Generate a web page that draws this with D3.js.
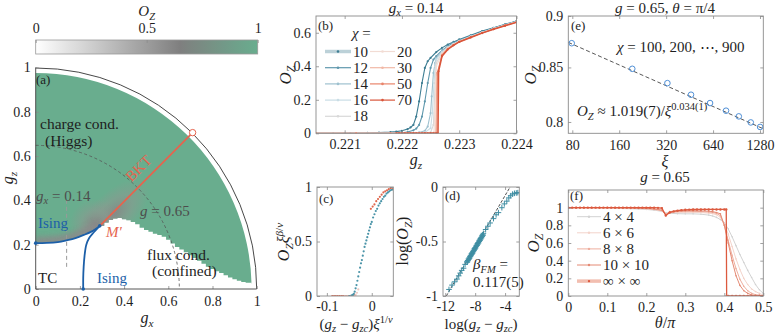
<!DOCTYPE html>
<html><head><meta charset="utf-8">
<script src="https://cdn.jsdelivr.net/npm/d3@7"></script>
<style>
body{margin:0;background:#fff}
svg{display:block;font-family:"Liberation Serif","Times New Roman",serif;white-space:pre}
</style></head><body><svg id="c" width="776" height="335"></svg>
<script>
// ---------------- DATA ----------------
// (a) phase diagram
const cbTicks=[0,0.5,1], cbLabels=["0","0.5","1"];
const aTicks=[0,0.2,0.4,0.6,0.8,1], aLabels=["0","0.2","0.4","0.6","0.8","1"];
const isingA_gx=[0,0.05,0.1,0.14,0.18,0.22,0.25,0.27,0.29];
const isingA_gz=[0.207,0.208,0.212,0.22,0.23,0.245,0.258,0.27,0.285];
const isingB_gx=[0.215,0.215,0.217,0.221,0.229,0.242,0.262,0.29];
const isingB_gz=[0,0.05,0.1,0.15,0.2,0.23,0.255,0.285];
const edge_gx=[0.29,0.31,0.33,0.35,0.37,0.39,0.41,0.43,0.45,0.47,0.49,0.51,0.53,0.55,0.57,0.59,0.61,0.63,0.65,0.67,0.69,0.71,0.73,0.75,0.77,0.79,0.81,0.83,0.85,0.87,0.89,0.91,0.93,0.95,0.976];
const edge_gz=[0.285,0.30,0.312,0.318,0.32,0.315,0.31,0.303,0.292,0.276,0.266,0.258,0.25,0.244,0.236,0.222,0.205,0.19,0.178,0.166,0.152,0.14,0.127,0.114,0.101,0.09,0.08,0.072,0.062,0.052,0.044,0.037,0.032,0.028,0.022];
const orderedR=0.977, unitR=1, gCircle=0.65;
const bkt_gx=[0.29,0.71], bkt_gz=[0.285,0.706];
const cut_gx=[0.14,0.14], cut_gz=[0.1,0.4];

// (b) O_Z vs g_z at g_x = 0.14
const chiLabels=[10,12,14,16,18,20,30,50,70];
const gz10=[0.2205,0.2208,0.2211,0.2214,0.2216,0.2218,0.2219,0.2220,0.2221,0.22215,0.2222,0.22225,0.2223,0.22235,0.2224,0.22245,0.2225,0.2226,0.2227,0.2228,0.2229,0.2230,0.2232,0.2234,0.2236,0.2238,0.2240];
const oz10=[0,0,0.001,0.002,0.004,0.007,0.010,0.015,0.025,0.035,0.05,0.10,0.19,0.30,0.39,0.43,0.45,0.485,0.51,0.53,0.545,0.56,0.585,0.61,0.63,0.65,0.67];
const gz12=[0.2205,0.2210,0.2215,0.2218,0.2220,0.2221,0.2222,0.22225,0.2223,0.22235,0.2224,0.22245,0.2225,0.22255,0.2226,0.2227,0.2228,0.2229,0.2230,0.2232,0.2234,0.2236,0.2238,0.2240];
const oz12=[0,0,0,0.001,0.003,0.008,0.018,0.028,0.05,0.10,0.19,0.30,0.39,0.44,0.46,0.495,0.52,0.54,0.555,0.58,0.605,0.628,0.648,0.668];
const gz14=[0.2205,0.2212,0.2218,0.2221,0.2223,0.2224,0.22245,0.2225,0.22252,0.22255,0.22258,0.2226,0.2227,0.2228,0.2229,0.2230,0.2232,0.2234,0.2236,0.2238,0.2240];
const oz14=[0,0,0,0.001,0.005,0.015,0.04,0.12,0.22,0.36,0.42,0.45,0.49,0.515,0.535,0.552,0.578,0.603,0.626,0.647,0.667];
const gz16=[0.2205,0.2212,0.2218,0.2222,0.2224,0.2225,0.22253,0.22256,0.22258,0.2226,0.2227,0.2228,0.2229,0.2230,0.2232,0.2234,0.2236,0.2238,0.2240];
const oz16=[0,0,0,0.001,0.005,0.03,0.12,0.30,0.40,0.44,0.485,0.512,0.533,0.55,0.577,0.602,0.625,0.646,0.666];
const gz18=[0.2205,0.2212,0.2218,0.2222,0.2224,0.2225,0.22255,0.22258,0.2226,0.2227,0.2228,0.2229,0.2230,0.2232,0.2234,0.2236,0.2238,0.2240];
const oz18=[0,0,0,0,0.002,0.005,0.05,0.30,0.42,0.48,0.51,0.532,0.549,0.576,0.601,0.624,0.645,0.665];
const gz20=[0.2205,0.2212,0.2218,0.2222,0.2224,0.22256,0.22259,0.2226,0.2227,0.2228,0.2229,0.2230,0.2232,0.2234,0.2236,0.2238,0.2240];
const oz20=[0,0,0,0,0.001,0.005,0.30,0.40,0.475,0.508,0.53,0.548,0.575,0.6,0.623,0.644,0.664];
const gz30=[0.2205,0.2212,0.2218,0.2222,0.2224,0.2225,0.22259,0.22261,0.2227,0.2228,0.2229,0.2230,0.2232,0.2234,0.2236,0.2238,0.2240];
const oz30=[0,0,0,0,0,0,0.003,0.35,0.47,0.505,0.528,0.547,0.574,0.6,0.623,0.644,0.664];
const gz50=[0.2205,0.2212,0.2218,0.2222,0.2224,0.2225,0.2226,0.22261,0.22262,0.2227,0.2228,0.2229,0.2230,0.2232,0.2234,0.2236,0.2238,0.2240];
const oz50=[0,0,0,0,0,0,0,0,0.36,0.465,0.503,0.527,0.546,0.573,0.599,0.622,0.643,0.663];
const gz70=[0.2219,0.22195,0.2220,0.22205,0.2221,0.22215,0.2222,0.22225,0.2223,0.22235,0.2224,0.22245,0.2225,0.22255,0.2226,0.22263,0.22264,0.2227,0.2228,0.2229,0.2230,0.2232,0.2234,0.2236,0.2238,0.2240];
const oz70=[0,0,0,0,0,0,0,0,0,0,0,0,0,0,0,0,0.37,0.46,0.5,0.525,0.545,0.572,0.598,0.621,0.642,0.662];
const bXTicks=[0.221,0.222,0.223,0.224], bYTicks=[0,0.2,0.4,0.6];

// (c) data collapse
const cTealX=[-0.05,-0.045,-0.042,-0.04,-0.038,-0.036,-0.034,-0.032,-0.03,-0.028,-0.026,-0.024,-0.022,-0.02,-0.018,-0.016,-0.014,-0.012,-0.01,-0.008,-0.006,-0.004,-0.002,0,0.003,0.006,0.009,0.012,0.015,0.018,0.021,0.024,0.027,0.03,0.033,0.036,0.039,0.042,0.045];
const cTealY=[0,0.005,0.01,0.02,0.04,0.07,0.1,0.14,0.18,0.22,0.26,0.3,0.33,0.37,0.41,0.45,0.48,0.51,0.54,0.57,0.6,0.63,0.66,0.68,0.72,0.75,0.78,0.8,0.83,0.85,0.87,0.89,0.91,0.92,0.94,0.95,0.96,0.97,0.975];
const cLightX=[-0.06,-0.055,-0.05,-0.045,-0.04,-0.036,-0.033,-0.03];
const cLightY=[0,0,0,0,0.005,0.01,0.03,0.06];
const cRedX=[-0.088,-0.084,-0.08,-0.076,-0.072,-0.068,-0.064,-0.06,-0.056,-0.052,-0.048,-0.044,-0.041,-0.038,-0.002,0.002,0.006,0.01,0.014,0.018,0.022,0.026,0.03,0.034,0.038,0.042,0.046];
const cRedY=[0,0,0,0,0,0,0,0,0,0,0,0,0,0.01,0.8,0.82,0.84,0.87,0.89,0.91,0.93,0.95,0.96,0.97,0.98,0.99,0.98];
const cXTicks=[-0.1,0], cYTicks=[0,0.5,1];

// (d) log-log
const dX=[-11.5,-11.1,-10.75,-10.43,-10.2,-10.0,-9.8,-9.55,-9.35,-9.1,-9.0,-8.9,-8.8,-8.7,-8.6,-8.5,-8.4,-8.3,-8.2,-8.1,-8.0,-7.9,-7.8,-7.7,-7.6,-7.5,-7.4,-7.3,-7.2,-7.1,-7.0,-6.9,-6.6,-6.3,-6.0,-5.55,-5.2,-4.89,-4.43,-4.1,-3.77,-3.5,-3.25,-3.0,-2.75,-2.5,-2.3];
const dY=[-0.94,-0.9,-0.87,-0.845,-0.815,-0.79,-0.765,-0.745,-0.71,-0.686,-0.674,-0.66,-0.65,-0.636,-0.626,-0.612,-0.603,-0.59,-0.579,-0.565,-0.556,-0.542,-0.532,-0.519,-0.509,-0.495,-0.485,-0.472,-0.462,-0.448,-0.438,-0.425,-0.39,-0.36,-0.33,-0.29,-0.255,-0.235,-0.19,-0.155,-0.13,-0.1,-0.08,-0.065,-0.058,-0.055,-0.052];
const dX2=[-9.05,-8.95,-8.85,-8.75,-8.65,-8.55,-8.45,-8.35,-8.25,-8.15,-8.05,-7.95,-7.85,-7.75,-7.65,-7.55,-7.45,-7.35,-7.25,-7.15,-7.05,-6.95];
const dY2=[-0.69,-0.677,-0.664,-0.654,-0.641,-0.631,-0.618,-0.608,-0.595,-0.584,-0.572,-0.561,-0.548,-0.537,-0.525,-0.514,-0.501,-0.49,-0.478,-0.467,-0.455,-0.443];
const dFitX=[-11.86,-3.33], dFitY=[-1,0];
const dXTicks=[-12,-8,-4], dYTicks=[-1,-0.5,0];

// (e) O_Z vs xi
const eXi=[79.3,194,326,462,612,775,936,1117,1282];
const eO=[0.8732,0.8487,0.8353,0.8246,0.8170,0.8101,0.8050,0.7996,0.7956];
const eFitXi=[75.4,1344], eFitO=[0.874,0.794];
const eXTicks=[80,160,320,640,1280], eYTicks=[0.8,0.85,0.9];

// (f) O_Z vs theta
const thInf=[0,0.01,0.02,0.03,0.04,0.05,0.06,0.07,0.08,0.09,0.10,0.11,0.12,0.13,0.14,0.15,0.16,0.17,0.18,0.19,0.20,0.21,0.22,0.23,0.24,0.25,0.26,0.27,0.28,0.29,0.30,0.31,0.32,0.33,0.34,0.35,0.36,0.37,0.38,0.39,0.40,0.405,0.406,0.41,0.42,0.43,0.44,0.45,0.46,0.47,0.48,0.49,0.50];
const oInf=[1,1,1,1,1,1,1,1,1,1,1,1,1,1,1,1,1,1,1,1,1,1,1,0.998,0.995,0.91,0.945,0.958,0.966,0.972,0.976,0.978,0.979,0.98,0.98,0.98,0.98,0.98,0.98,0.98,0.98,0.98,0,0,0,0,0,0,0,0,0,0,0];
const thetaF=[0,0.02,0.04,0.06,0.08,0.10,0.12,0.14,0.16,0.18,0.20,0.22,0.24,0.25,0.26,0.28,0.30,0.32,0.34,0.36,0.37,0.38,0.39,0.40,0.41,0.42,0.43,0.44,0.45,0.46,0.47,0.48,0.49,0.50];
const o4=[1,1,1,1,1,0.998,0.995,0.99,0.988,0.985,0.98,0.972,0.958,0.942,0.936,0.932,0.93,0.93,0.926,0.916,0.906,0.89,0.865,0.83,0.76,0.67,0.57,0.47,0.38,0.29,0.21,0.13,0.07,0.03];
const o6=[1,1,1,1,1,1,0.998,0.996,0.994,0.99,0.986,0.978,0.962,0.935,0.944,0.946,0.947,0.947,0.944,0.938,0.932,0.92,0.89,0.82,0.7,0.56,0.42,0.3,0.2,0.13,0.08,0.05,0.03,0.01];
const o8=[1,1,1,1,1,1,1,0.998,0.996,0.993,0.99,0.982,0.968,0.925,0.95,0.956,0.958,0.958,0.956,0.95,0.945,0.935,0.91,0.8,0.63,0.46,0.31,0.19,0.11,0.06,0.03,0.015,0.01,0];
const o10=[1,1,1,1,1,1,1,1,0.998,0.996,0.993,0.986,0.972,0.918,0.955,0.964,0.966,0.966,0.964,0.96,0.955,0.945,0.93,0.8,0.6,0.4,0.23,0.12,0.06,0.03,0.012,0.005,0,0];
const fLegend=["4 \u00d7 4","6 \u00d7 6","8 \u00d7 8","10 \u00d7 10","\u221e \u00d7 \u221e"];
const fXTicks=[0,0.1,0.2,0.3,0.4,0.5], fYTicks=[0,0.2,0.4,0.6,0.8,1];

// ---------------- DRAWING ----------------
const svg=d3.select('#c');
const defs=svg.append('defs');
const BOX='#8a8a8a', TXT='#1e1e1e', FS=14;
const GREEN='#69ad8e';

function rich(x,y,segs,o={}){
  const fs=o.fs||15;
  const t=svg.append('text').attr('x',x).attr('y',y).attr('font-size',fs)
    .attr('text-anchor',o.anchor||'start').attr('fill',o.fill||TXT);
  if(o.rot) t.attr('transform',`rotate(${o.rot},${x},${y})`);
  let cur=0;
  segs.forEach(([s,f=''])=>{
    const sub=f.includes('_'), sup=f.includes('^');
    const off=sub? fs*0.25 : sup? -fs*0.38 : 0;
    const ts=t.append('tspan').attr('dy',off-cur).text(s);
    if(f.includes('i')) ts.attr('font-style','italic');
    if(sub||sup) ts.attr('font-size',fs*0.7);
    cur=off;
  });
  return t;
}
function styleAxis(g){
  g.attr('font-family',null).attr('font-size',FS);
  g.select('.domain').remove();
  g.selectAll('.tick line').attr('stroke',BOX).attr('stroke-width',0.8);
  g.selectAll('.tick text').attr('fill',TXT);
  return g;
}
function frame(xs,ys,o){
  const [x0,x1]=xs.range(), [yb,yt]=ys.range();
  svg.append('g').attr('transform',`translate(0,${yb})`)
    .call(d3.axisBottom(xs).tickValues(o.xt).tickFormat(o.xf).tickSize(-3).tickSizeOuter(0).tickPadding(o.xpad||7)).call(styleAxis);
  svg.append('g').attr('transform',`translate(0,${yt})`)
    .call(d3.axisTop(xs).tickValues(o.xt).tickFormat('').tickSize(-3).tickSizeOuter(0)).call(styleAxis);
  svg.append('g').attr('transform',`translate(${x0},0)`)
    .call(d3.axisLeft(ys).tickValues(o.yt).tickFormat(o.yf).tickSize(-3).tickSizeOuter(0).tickPadding(o.ypad||5)).call(styleAxis);
  svg.append('g').attr('transform',`translate(${x1},0)`)
    .call(d3.axisRight(ys).tickValues(o.yt).tickFormat('').tickSize(-3).tickSizeOuter(0)).call(styleAxis);
  svg.append('rect').attr('x',x0).attr('y',yt).attr('width',x1-x0).attr('height',yb-yt)
    .attr('fill','none').attr('stroke',BOX).attr('stroke-width',0.9);
}
function clipFor(id,xs,ys){
  const [x0,x1]=xs.range(), [yb,yt]=ys.range();
  defs.append('clipPath').attr('id',id).append('rect').attr('x',x0).attr('y',yt).attr('width',x1-x0).attr('height',yb-yt);
  return `url(#${id})`;
}
const zip=(a,b)=>a.map((v,i)=>[v,b[i]]);

// ======== (a) ========
const xA=d3.scaleLinear([0,1],[35.7,256.7]);
const yA=d3.scaleLinear([0,1],[289,67.5]);
const cbS=d3.scaleLinear([0,1],[35.7,257.7]);
const cmap=d3.scaleLinear([0,0.65,1],['#ffffff','#7f7f7f',GREEN]);
const lg=defs.append('linearGradient').attr('id','cb');
d3.range(0,1.0001,0.05).forEach(t=>lg.append('stop').attr('offset',t).attr('stop-color',cmap(t)));
svg.append('rect').attr('x',cbS(0)).attr('y',40).attr('width',cbS(1)-cbS(0)).attr('height',14)
  .attr('fill','url(#cb)').attr('stroke','#9a9a9a').attr('stroke-width',0.8);
svg.append('g').attr('transform','translate(0,40)')
  .call(d3.axisTop(cbS).tickValues(cbTicks).tickFormat((d,i)=>cbLabels[i]).tickSize(-3).tickSizeOuter(0).tickPadding(7)).call(styleAxis);
rich(cbS(0.5),16,[['O','i'],['Z','i_']],{anchor:'middle',fs:15});

const cxA=xA(0), cyA=yA(0);
function regionPath(){
  const p=d3.path(), r=xA(orderedR)-xA(0);
  p.moveTo(xA(0),yA(orderedR));
  p.lineTo(xA(0),yA(isingA_gz[0]));
  isingA_gx.forEach((g,i)=>p.lineTo(xA(g),yA(isingA_gz[i])));
  let pz=edge_gz[0];
  p.lineTo(xA(edge_gx[0]),yA(pz));
  for(let i=1;i<edge_gx.length;i++){
    p.lineTo(xA(edge_gx[i]),yA(pz));
    p.lineTo(xA(edge_gx[i]),yA(edge_gz[i]));
    pz=edge_gz[i];
  }
  const n=edge_gx.length-1;
  const a0=Math.atan2(yA(edge_gz[n])-cyA,xA(edge_gx[n])-cxA);
  p.arc(cxA,cyA,r,a0,-Math.PI/2,true);
  p.closePath();
  return p.toString();
}
const rp=regionPath();
defs.append('clipPath').attr('id','reg').append('path').attr('d',rp);
svg.append('path').attr('d',rp).attr('fill',GREEN);
const rg=defs.append('radialGradient').attr('id','gm');
rg.append('stop').attr('offset',0).attr('stop-color','#858585').attr('stop-opacity',0.95);
rg.append('stop').attr('offset',0.55).attr('stop-color','#8b9990').attr('stop-opacity',0.55);
rg.append('stop').attr('offset',1).attr('stop-color','#8b9990').attr('stop-opacity',0);
defs.append('filter').attr('id','blur').attr('x','-20%').attr('y','-50%').attr('width','140%').attr('height','200%')
  .append('feGaussianBlur').attr('stdDeviation',2.5);
const shade=svg.append('g').attr('clip-path','url(#reg)');
shade.append('ellipse').attr('cx',xA(0.35)).attr('cy',yA(0.335)).attr('rx',46).attr('ry',22)
  .attr('transform',`rotate(-45,${xA(0.35)},${yA(0.335)})`).attr('fill','url(#gm)');
shade.append('circle').attr('cx',xA(0.27)).attr('cy',yA(0.29)).attr('r',26).attr('fill','url(#gm)');
shade.append('path').attr('d',d3.line().curve(d3.curveCatmullRom)(zip(isingA_gx,isingA_gz).map(d=>[xA(d[0]),yA(d[1])])))
  .attr('fill','none').attr('stroke','#8a8a8a').attr('stroke-width',13).attr('opacity',0.85).attr('filter','url(#blur)');

const rU=xA(unitR)-xA(0);
svg.append('path').attr('d',(()=>{const p=d3.path();p.arc(cxA,cyA,rU,-Math.PI/2,0);return p.toString();})())
  .attr('fill','none').attr('stroke','#333').attr('stroke-width',0.9);
const rG=xA(gCircle)-xA(0);
svg.append('path').attr('d',(()=>{const p=d3.path();p.arc(cxA,cyA,rG,-Math.PI/2,0);return p.toString();})())
  .attr('fill','none').attr('stroke','#555').attr('stroke-width',0.8).attr('stroke-dasharray','3,2.5');
svg.append('line').attr('x1',xA(cut_gx[0])).attr('x2',xA(cut_gx[1])).attr('y1',yA(cut_gz[0])).attr('y2',yA(cut_gz[1]))
  .attr('stroke','#9a9a9a').attr('stroke-width',1).attr('stroke-dasharray','4,3');
svg.append('g').attr('transform',`translate(0,${yA(0)})`)
  .call(d3.axisBottom(xA).tickValues(aTicks).tickFormat((d,i)=>aLabels[i]).tickSize(-3).tickSizeOuter(0).tickPadding(7)).call(styleAxis);
svg.append('g').attr('transform',`translate(${xA(0)},0)`)
  .call(d3.axisLeft(yA).tickValues(aTicks).tickFormat((d,i)=>aLabels[i]).tickSize(-3).tickSizeOuter(0).tickPadding(5)).call(styleAxis);
svg.append('line').attr('x1',xA(0)).attr('x2',xA(1)).attr('y1',yA(0)).attr('y2',yA(0)).attr('stroke','#444').attr('stroke-width',0.9);
svg.append('line').attr('x1',xA(0)).attr('x2',xA(0)).attr('y1',yA(0)).attr('y2',yA(1)).attr('stroke','#444').attr('stroke-width',0.9);
const RED='#e5644e', BLUE='#1c5fa8';
svg.append('line').attr('x1',xA(bkt_gx[0])).attr('y1',yA(bkt_gz[0])).attr('x2',xA(bkt_gx[1])).attr('y2',yA(bkt_gz[1]))
  .attr('stroke',RED).attr('stroke-width',1.8);
svg.append('circle').attr('cx',xA(bkt_gx[1])).attr('cy',yA(bkt_gz[1])).attr('r',3.2).attr('fill','#fff').attr('stroke',RED).attr('stroke-width',1);
const lineA=d3.line().curve(d3.curveCatmullRom).x(d=>xA(d[0])).y(d=>yA(d[1]));
svg.append('path').attr('d',lineA(zip(isingA_gx,isingA_gz))).attr('fill','none').attr('stroke',BLUE).attr('stroke-width',1.8);
svg.append('path').attr('d',lineA(zip(isingB_gx,isingB_gz))).attr('fill','none').attr('stroke',BLUE).attr('stroke-width',1.8);
[[isingA_gx[0],isingA_gz[0]],[isingB_gx[0],isingB_gz[0]],[bkt_gx[0],bkt_gz[0]]].forEach(d=>
  svg.append('circle').attr('cx',xA(d[0])).attr('cy',yA(d[1])).attr('r',1.8).attr('fill',BLUE));
rich(36,84,[['(a)']],{fs:13});
rich(40,129,[['charge cond.']],{fs:15.5});
rich(45,146,[['(Higgs)']],{fs:15.5});
rich(36,200.5,[['g','i'],['x','i_'],[' = 0.14']],{fs:15,fill:'#4d4d4d'});
rich(140,216,[['g','i'],[' = 0.65']],{fs:15,fill:'#4d4d4d'});
rich(38,227.5,[['Ising']],{fs:15,fill:BLUE});
rich(97,282.5,[['Ising']],{fs:15,fill:BLUE});
rich(38,282.5,[['TC']],{fs:15});
rich(147,259.5,[['flux cond.']],{fs:15.5});
rich(152,275.5,[['(confined)']],{fs:15.5});
rich(106,236.5,[['M\u2032','i']],{fs:15,fill:RED});
rich(142,172,[['BKT']],{fs:15,fill:RED,anchor:'middle',rot:-45});
rich(147,323,[['g','i'],['x','i_']],{fs:16,anchor:'middle'});
rich(13,178,[['g','i'],['z','i_']],{fs:16,anchor:'middle',rot:-90});

// ======== (b) ========
const xB=d3.scaleLinear([0.2205,0.224],[316,516.5]);
const yB=d3.scaleLinear([0,0.7],[133.3,16]);
const chiColors=['#3d7d92','#5f98ad','#9ec1cf','#c9dde5','#d8d8d8','#f2dcd4','#f1b8a6','#e8846b','#d9553a'];
const chiData=[[gz10,oz10],[gz12,oz12],[gz14,oz14],[gz16,oz16],[gz18,oz18],[gz20,oz20],[gz30,oz30],[gz50,oz50],[gz70,oz70]];
const gB=svg.append('g').attr('clip-path',clipFor('cB',xB,yB));
const lineB=d3.line().x(d=>xB(d[0])).y(d=>yB(d[1]));
chiData.forEach(([gx,oz],k)=>{
  const pts=zip(gx,oz);
  gB.append('path').attr('d',lineB(pts)).attr('fill','none').attr('stroke',chiColors[k]).attr('stroke-width',k===8?1.5:1.1);
  gB.selectAll(null).data(pts).join('circle').attr('cx',d=>xB(d[0])).attr('cy',d=>yB(d[1])).attr('r',1.1).attr('fill',chiColors[k]);
});
frame(xB,yB,{xt:bXTicks,xf:d3.format('.3f'),yt:bYTicks,yf:d=>d===0?'0':d3.format('.1f')(d),xpad:6});
rich(318,30,[['(b)']],{fs:13});
rich(352,38,[['\u03c7','i'],[' =']],{fs:15});
chiLabels.forEach((c,k)=>{
  const col=k<5?0:1, row=k<5?k:k-5;
  const x0=col?370:325, x1=col?395:351, y=51.5+row*16.2;
  if(k===0) svg.append('line').attr('x1',x0).attr('x2',x1).attr('y1',y).attr('y2',y).attr('stroke','#bcd1d8').attr('stroke-width',3.5);
  else svg.append('line').attr('x1',x0).attr('x2',x1).attr('y1',y).attr('y2',y).attr('stroke',chiColors[k]).attr('stroke-width',1.2);
  svg.append('circle').attr('cx',(x0+x1)/2).attr('cy',y).attr('r',1.3).attr('fill',chiColors[k]);
  rich(x1+2,y+5,[[String(c)]],{fs:15});
});
rich(416,12.5,[['g','i'],['x','i_'],[' = 0.14']],{fs:15,anchor:'middle'});
rich(416,165,[['g','i'],['z','i_']],{fs:16,anchor:'middle'});
rich(291,75,[['O','i'],['Z','i_']],{fs:17,anchor:'middle',rot:-90});

// ======== (c) ========
const xC=d3.scaleLinear([-0.122,0.048],[317,393.3]);
const yC=d3.scaleLinear([0,1],[296,187]);
const gC=svg.append('g').attr('clip-path',clipFor('cC',xC,yC));
[[cRedX,cRedY,'#e0674d'],[cLightX,cLightY,'#f0c8c0'],[cTealX,cTealY,'#4a94a8']].forEach(([xs,ys,col])=>{
  gC.selectAll(null).data(zip(xs,ys)).join('circle').attr('cx',d=>xC(d[0])).attr('cy',d=>yC(d[1])).attr('r',1.1).attr('fill',col);
});
frame(xC,yC,{xt:cXTicks,xf:d=>d===0?'0':String(d),yt:cYTicks,yf:d=>String(d),xpad:5});
rich(319,203,[['(c)']],{fs:13});
rich(289,242,[['O','i'],['Z','i_'],['\u03be','i'],['\u03b2','i^'],['/','^'],['\u03bd','i^']],{fs:16,anchor:'middle',rot:-90});
rich(356,328.5,[['('],['g','i'],['z','i_'],[' \u2212 '],['g','i'],['zc','i_'],[')'],['\u03be','i'],['1/','^'],['\u03bd','i^']],{fs:15,anchor:'middle'});

// ======== (d) ========
const xD=d3.scaleLinear([-12.3,-2.1],[443,519.3]);
const yD=d3.scaleLinear([-1,0],[296,187]);
const gD=svg.append('g').attr('clip-path',clipFor('cD',xD,yD));
gD.append('line').attr('x1',xD(dFitX[0])).attr('y1',yD(dFitY[0])).attr('x2',xD(dFitX[1])).attr('y2',yD(dFitY[1]))
  .attr('stroke','#222').attr('stroke-width',0.8).attr('stroke-dasharray','3,1.5');
gD.selectAll(null).data(zip(dX,dY).concat(zip(dX2,dY2))).join('path')
  .attr('d',d=>`M${xD(d[0])-2.8},${yD(d[1])}h5.6M${xD(d[0])},${yD(d[1])-2.8}v5.6`)
  .attr('stroke','#3f8ea3').attr('stroke-width',1).attr('fill','none');
frame(xD,yD,{xt:dXTicks,xf:d=>String(d),yt:dYTicks,yf:d=>d===0?'0':String(d),ypad:5,xpad:5});
rich(445,200,[['(d)']],{fs:13});
rich(473,269,[['\u03b2','i'],['FM','i_'],[' =']],{fs:15});
rich(473,287,[['0.117(5)']],{fs:15});
rich(408,241,[['log('],['O','i'],['Z','i_'],[')']],{fs:16,anchor:'middle',rot:-90});
rich(481,328.5,[['log('],['g','i'],['z','i_'],[' \u2212 '],['g','i'],['zc','i_'],[')']],{fs:15,anchor:'middle'});

// ======== (e) ========
const xE=d3.scaleLog([75.4,1344],[568.3,763.3]);
const yE=d3.scaleLog([0.79,0.9],[133.3,16]);
const gE=svg.append('g').attr('clip-path',clipFor('cE',xE,yE));
gE.append('line').attr('x1',xE(eFitXi[0])).attr('y1',yE(eFitO[0])).attr('x2',xE(eFitXi[1])).attr('y2',yE(eFitO[1]))
  .attr('stroke','#444').attr('stroke-width',0.9).attr('stroke-dasharray','4,2.5');
gE.selectAll(null).data(zip(eXi,eO)).join('circle').attr('cx',d=>xE(d[0])).attr('cy',d=>yE(d[1])).attr('r',2.8)
  .attr('fill','none').attr('stroke','#4f8fd6').attr('stroke-width',1);
frame(xE,yE,{xt:eXTicks,xf:d=>String(d),yt:eYTicks,yf:d=>String(d)});
rich(571,30,[['(e)']],{fs:13});
rich(665,12.5,[['g','i'],[' = 0.65, '],['\u03b8','i'],[' = \u03c0/4']],{fs:15,anchor:'middle'});
rich(617,52,[['\u03c7','i'],[' = 100, 200, \u22ef, 900']],{fs:15});
rich(577,116,[['O','i'],['Z','i_'],[' \u2248 1.019(7)/'],['\u03be','i'],['0.034(1)','^']],{fs:15});
rich(665,167,[['\u03be','i']],{fs:16,anchor:'middle'});
rich(536,75,[['O','i'],['Z','i_']],{fs:17,anchor:'middle',rot:-90});

// ======== (f) ========
const xF=d3.scaleLinear([0,0.5],[568.3,763.3]);
const yF=d3.scaleLinear([0,1.2],[296,190]);
const gF=svg.append('g').attr('clip-path',clipFor('cF',xF,yF));
const fColors=['#d2d2d2','#f3d3ca','#eeae9e','#e48a74','#dc5a3f'];
const fSeries=[[thetaF,o4],[thetaF,o6],[thetaF,o8],[thetaF,o10],[thInf,oInf]];
const lineF=d3.line().x(d=>xF(d[0])).y(d=>yF(d[1]));
fSeries.forEach(([th,o],k)=>{
  const pts=zip(th,o);
  gF.append('path').attr('d',lineF(pts)).attr('fill','none').attr('stroke',fColors[k]).attr('stroke-width',k===4?1.3:1);
  gF.selectAll(null).data(pts).join('circle').attr('cx',d=>xF(d[0])).attr('cy',d=>yF(d[1])).attr('r',k===4?1.2:0.8).attr('fill',fColors[k]);
});
frame(xF,yF,{xt:fXTicks,xf:d=>d===0?'0':String(d),yt:fYTicks,yf:d=>d===0?'0':(d===1?'1':d3.format('.1f')(d)),xpad:6});
rich(570,200,[['(f)']],{fs:13});
fLegend.forEach((s,k)=>{
  const y=216.7+k*16.1;
  if(k===4) svg.append('line').attr('x1',577).attr('x2',601).attr('y1',y).attr('y2',y).attr('stroke','#f2beb0').attr('stroke-width',3.5);
  else svg.append('line').attr('x1',577).attr('x2',601).attr('y1',y).attr('y2',y).attr('stroke',fColors[k]).attr('stroke-width',1);
  svg.append('circle').attr('cx',589).attr('cy',y).attr('r',1.2).attr('fill',fColors[k]);
  rich(603,y+5,[[s]],{fs:15});
});
rich(665,182,[['g','i'],[' = 0.65']],{fs:15,anchor:'middle'});
rich(665,328,[['\u03b8','i'],['/'],['\u03c0','i']],{fs:16,anchor:'middle'});
rich(539,243,[['O','i'],['Z','i_']],{fs:17,anchor:'middle',rot:-90});
</script></body></html>
